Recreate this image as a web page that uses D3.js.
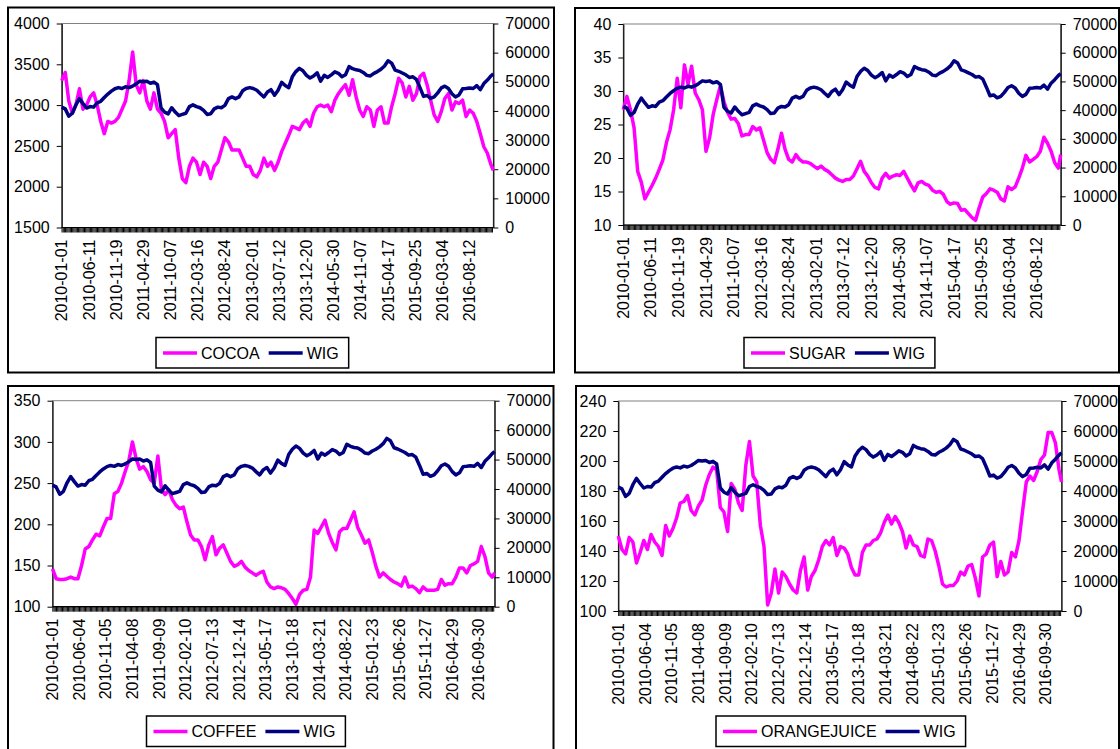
<!DOCTYPE html>
<meta charset="utf-8">
<style>
body { margin: 0; background: #fff; }
svg text { font-family: "Liberation Sans", Arial, sans-serif; font-size: 16px; fill: #000; }
</style>
<svg width="1120" height="749"></svg>
<script src="https://d3js.org/d3.v7.min.js"></script>
<script>

// tick labels of the category axes
var labelsTop = ["2010-01-01","2010-06-11","2010-11-19","2011-04-29","2011-10-07","2012-03-16",
  "2012-08-24","2013-02-01","2013-07-12","2013-12-20","2014-05-30","2014-11-07","2015-04-17",
  "2015-09-25","2016-03-04","2016-08-12"];
var labelsBottom = ["2010-01-01","2010-06-04","2010-11-05","2011-04-08","2011-09-09","2012-02-10",
  "2012-07-13","2012-12-14","2013-05-17","2013-10-18","2014-03-21","2014-08-22","2015-01-23",
  "2015-06-26","2015-11-27","2016-04-29","2016-09-30"];

// values read every 3 weeks from 2010-01-01 (last one = 2016-12-30)
var wig = [41300,40700,38200,39200,42100,44200,42500,41000,41500,41300,
  42800,43300,44600,45800,46800,47600,48000,47700,48300,48000,
  48500,49300,50200,50000,50200,49500,49900,49000,41000,39600,
  39000,41100,39600,38400,38800,39200,41500,42100,41500,41100,
  40200,38800,39000,40700,41300,41100,41900,44200,44800,44200,
  44800,46900,47700,48000,47700,47100,45900,44800,46500,47300,
  45400,47100,49800,48700,48000,51700,53500,54600,53800,52200,
  51300,52000,53100,50200,52200,51500,52400,53400,52900,51700,
  52400,55200,54500,54100,53900,53200,52200,52000,52900,53500,
  54300,55400,57200,56400,54000,53600,53000,52400,51500,51700,
  50800,48000,45000,45300,44300,44800,46200,47900,48500,47700,
  45900,44800,45500,47600,47700,47900,47700,48700,47300,49400,
  50600,52000,52700];

var cocoa = [3300,3400,3050,2900,3000,3200,2950,3000,3100,3150,
  3000,2800,2650,2800,2780,2800,2850,2950,3050,3300,
  3650,3250,3150,3300,3050,2950,3150,2950,2900,2800,
  2600,2650,2700,2350,2100,2050,2250,2350,2300,2150,
  2300,2250,2100,2250,2300,2450,2600,2550,2450,2450,
  2450,2350,2250,2250,2150,2120,2200,2350,2250,2300,
  2200,2300,2430,2530,2630,2740,2720,2700,2780,2820,
  2740,2900,2980,3000,2980,3000,2920,3060,3140,3200,
  3250,3120,3310,3100,2940,2860,2980,2940,2740,2940,
  2980,2780,2780,2980,3140,3330,3270,3100,3230,3060,
  3140,3350,3390,3250,3060,2880,2800,2920,3080,3140,
  2940,3040,3020,3060,2860,2940,2900,2800,2650,2490,
  2410,2270,2200];

var sugar = [27.2,29.2,27.2,24.5,18.0,16.4,13.9,14.9,15.9,17.0,
  18.3,19.7,22.3,24.2,27.2,31.9,27.5,33.9,31.0,33.7,
  29.7,28.7,27.2,21.0,23.0,26.5,28.7,30.8,28.4,26.8,
  25.8,25.9,25.1,23.3,23.5,23.5,24.7,24.2,24.5,22.7,
  20.8,19.8,19.3,21.3,23.7,21.3,19.8,19.4,20.5,19.8,
  19.4,19.4,19.2,18.8,18.4,18.8,18.3,18.0,17.5,17.0,
  16.7,16.5,16.8,16.8,17.3,18.4,19.5,18.0,17.3,16.3,
  15.6,15.4,17.0,17.7,17.0,17.3,17.5,17.4,18.0,17.0,
  16.0,15.1,16.3,16.5,16.1,15.9,15.2,14.9,15.0,14.6,
  13.5,13.1,13.3,13.2,12.2,12.3,11.7,11.1,10.7,12.6,
  14.2,14.7,15.4,15.2,14.9,13.9,13.6,15.7,15.3,15.7,
  17.0,18.5,20.4,19.4,19.8,20.2,21.0,23.1,22.2,21.0,
  19.3,18.5,20.5];

var coffee = [146,134,133,133,134,136,134,134,150,170,
  173,181,188,186,197,207,207,237,240,250,
  264,277,300,280,267,270,264,254,250,283,
  242,236,242,230,223,219,221,203,187,181,
  181,173,157,175,185,163,171,175,165,155,
  149,151,155,148,144,141,138,141,143,130,
  124,122,124,123,121,116,110,103,115,120,
  121,136,193,189,197,205,189,178,169,191,
  195,195,205,215,196,187,177,181,166,149,
  136,141,137,133,130,128,125,136,124,125,
  122,117,124,120,120,120,121,133,126,128,
  128,136,147,147,141,150,152,155,173,161,
  141,136,141];

var orangejuice = [150,141,138,149,146,132,139,147,141,151,
  146,143,137,157,150,155,162,172,173,177,
  167,164,170,174,184,191,196,194,169,166,
  153,185,181,172,167,197,213,190,186,157,
  143,104,112,128,112,126,123,118,114,112,
  127,136,114,123,127,134,143,147,144,149,
  137,143,142,138,129,124,124,139,144,144,
  147,148,152,159,164,158,163,159,153,142,
  150,144,143,137,136,148,147,140,130,118,
  116,117,117,120,126,124,130,131,122,110,
  136,138,144,146,123,133,124,126,139,136,
  147,167,186,190,187,193,201,204,219,219,
  212,194,186];

var parse = d3.timeParse("%Y-%m-%d");
var t0 = parse("2010-01-01"), t1 = parse("2016-12-30");
var dates = wig.map(function(d, i) {
  var t = d3.timeDay.offset(t0, 21 * i);
  return t > t1 ? t1 : t;
});

var panels = [
  {name: "COCOA", values: cocoa, domain: [1500, 4000], step: 500, labels: labelsTop,
   frame: [8, 7.5, 554, 372.5], plot: [61.7, 493.3, 23.5, 227.5], legend: [156, 337.5]},
  {name: "SUGAR", values: sugar, domain: [10, 40], step: 5, labels: labelsTop,
   frame: [575, 8, 1119, 372.5], plot: [623.3, 1060.7, 24, 225], legend: [744, 337.5]},
  {name: "COFFEE", values: coffee, domain: [100, 350], step: 50, labels: labelsBottom,
   frame: [8, 386, 553.5, 770], plot: [52.5, 494.6, 400.7, 606.7], legend: [146.5, 716]},
  {name: "ORANGEJUICE", values: orangejuice, domain: [100, 240], step: 20, labels: labelsBottom,
   frame: [576, 386, 1119, 770], plot: [618.3, 1061.5, 401, 611], legend: [716, 716]}
];

var svg = d3.select("svg");

panels.forEach(function(p) {
  var g = svg.append("g");
  var L = p.plot[0], R = p.plot[1], T = p.plot[2], B = p.plot[3];

  // chart frame
  g.append("rect")
    .attr("x", p.frame[0]).attr("y", p.frame[1])
    .attr("width", p.frame[2] - p.frame[0]).attr("height", p.frame[3] - p.frame[1])
    .attr("fill", "#fff").attr("stroke", "#000").attr("stroke-width", 2);

  var x = d3.scaleTime().domain([t0, t1]).range([L, R]);
  var yL = d3.scaleLinear().domain(p.domain).range([B, T]);
  var yR = d3.scaleLinear().domain([0, 70000]).range([B, T]);

  // plot area border (grey)
  g.append("rect")
    .attr("x", L).attr("y", T).attr("width", R - L).attr("height", B - T)
    .attr("fill", "none").attr("stroke", "#808080").attr("stroke-width", 1);

  // dense category ticks
  g.append("g").selectAll("line")
    .data(d3.timeWeek.every(1).range(t0, t1))
    .join("line")
      .attr("x1", d => x(d)).attr("x2", d => x(d))
      .attr("y1", B).attr("y2", B + 5)
      .attr("stroke", "#000").attr("stroke-width", 1);

  g.append("line")
    .attr("x1", L).attr("x2", R).attr("y1", B).attr("y2", B)
    .attr("stroke", "#000").attr("stroke-width", 1.2);

  // category labels
  g.append("g").selectAll("text")
    .data(p.labels)
    .join("text")
      .attr("transform", d => "translate(" + x(parse(d)) + "," + (B + 12) + ") rotate(-90)")
      .attr("text-anchor", "end")
      .attr("dy", "0.35em")
      .text(d => d);

  // left axis
  var axL = g.append("g")
    .attr("transform", "translate(" + L + ",0)")
    .call(d3.axisLeft(yL)
      .tickValues(d3.range(p.domain[0], p.domain[1] + 1e-9, p.step))
      .tickSize(5).tickSizeOuter(0).tickPadding(7).tickFormat(d3.format("d")));

  // right axis
  var axR = g.append("g")
    .attr("transform", "translate(" + R + ",0)")
    .call(d3.axisRight(yR)
      .tickValues(d3.range(0, 70001, 10000))
      .tickSize(5).tickSizeOuter(0).tickPadding(7).tickFormat(d3.format("d")));

  [axL, axR].forEach(function(a) {
    a.attr("font-size", null).attr("font-family", null);
    a.select(".domain").attr("stroke-width", 1.2);
  });

  var lineL = d3.line().x((d, i) => x(dates[i])).y(d => yL(d));
  var lineR = d3.line().x((d, i) => x(dates[i])).y(d => yR(d));

  g.append("path")
    .attr("d", lineL(p.values))
    .attr("fill", "none").attr("stroke", "#ff00ff")
    .attr("stroke-width", 3.5).attr("stroke-linejoin", "round");

  g.append("path")
    .attr("d", lineR(wig))
    .attr("fill", "none").attr("stroke", "#000080")
    .attr("stroke-width", 3.5).attr("stroke-linejoin", "round");

  // legend
  var lg = g.append("g").attr("transform", "translate(" + p.legend[0] + "," + p.legend[1] + ")");
  var box = lg.append("rect").attr("height", 30.5)
    .attr("fill", "#fff").attr("stroke", "#000").attr("stroke-width", 1.5);
  var cx = 7;
  [{label: p.name, color: "#ff00ff"}, {label: "WIG", color: "#000080"}].forEach(function(item, k) {
    if (k > 0) cx += 9;
    lg.append("line")
      .attr("x1", cx).attr("x2", cx + 34).attr("y1", 15.5).attr("y2", 15.5)
      .attr("stroke", item.color).attr("stroke-width", 3.5);
    cx += 38;
    var t = lg.append("text").attr("x", cx).attr("y", 15.5).attr("dy", "0.35em").text(item.label);
    cx += t.node().getComputedTextLength();
  });
  box.attr("width", cx + 10);
});

</script>
